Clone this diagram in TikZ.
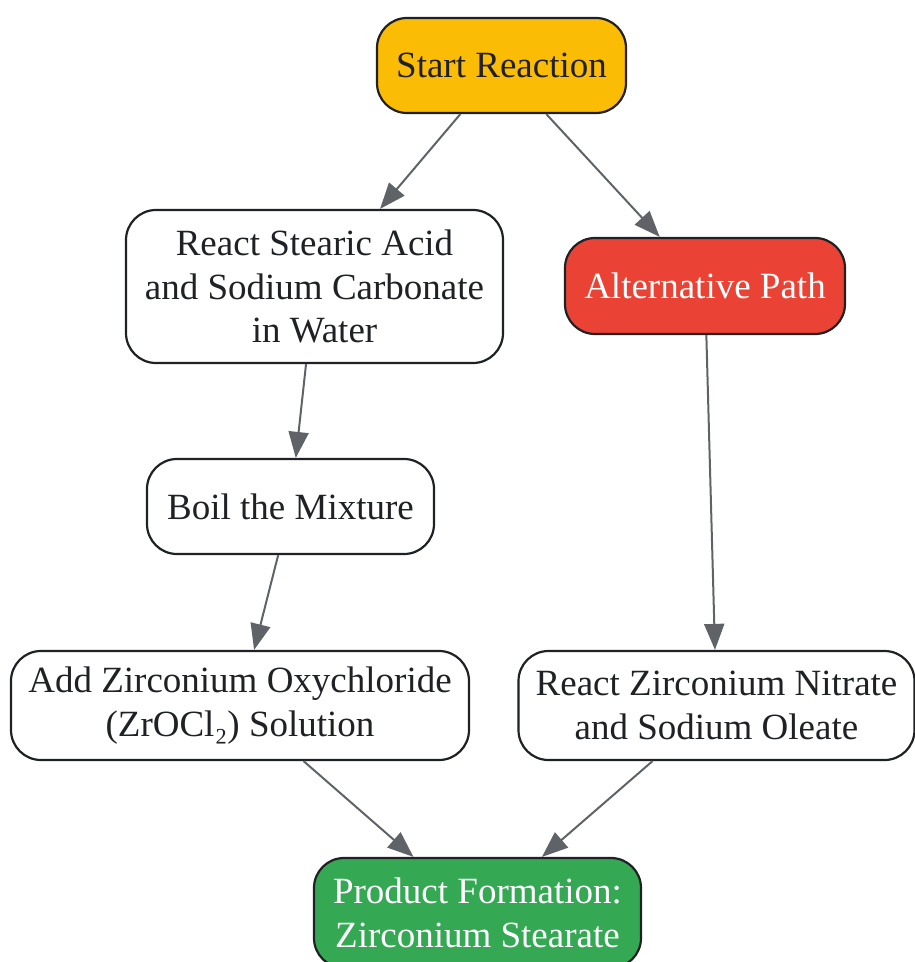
\documentclass[tikz,border=0pt]{standalone}
\usepackage{fontspec}
\setmainfont{Liberation Serif}
\usetikzlibrary{arrows.meta}
\definecolor{startc}{HTML}{FBBC05}
\definecolor{altc}{HTML}{EA4335}
\definecolor{prodc}{HTML}{34A853}
\definecolor{edgec}{HTML}{5F6368}
\definecolor{inkc}{HTML}{202124}
\begin{document}
\begin{tikzpicture}[x=1pt,y=1pt,
  box/.style={draw=inkc, line width=2.2pt, rounded corners=30pt, fill=white,
    text=inkc, align=center, inner sep=0pt,
    font=\fontsize{37}{43.5}\selectfont},
  conn/.style={draw=edgec, line width=2pt,
    -{Triangle[length=26pt,width=20pt]}}]
\useasboundingbox (0,0) rectangle (914,-962);
\node[box, fill=startc, minimum width=249pt, minimum height=95pt] (start) at (501.5,-65.5) {Start Reaction};
\node[box, minimum width=377pt, minimum height=153pt] (stearic) at (314.5,-286.5) {React Stearic Acid\\and Sodium Carbonate\\in Water};
\node[box, fill=altc, text=white, minimum width=280pt, minimum height=96pt] (alt) at (705,-286) {Alternative Path};
\node[box, minimum width=287pt, minimum height=95pt] (boil) at (290.5,-506.5) {Boil the Mixture};
\node[box, minimum width=458pt, minimum height=109pt] (add) at (240,-705.5) {Add Zirconium Oxychloride\\(ZrOCl₂) Solution};
\node[box, minimum width=396pt, minimum height=109pt] (nitrate) at (716.5,-705.5) {React Zirconium Nitrate\\and Sodium Oleate};
\node[box, fill=prodc, text=white, minimum width=327pt, minimum height=110pt] (prod) at (477.5,-913) {Product Formation:\\Zirconium Stearate};
\draw[conn] (start) -- (stearic);
\draw[conn] (start) -- (alt);
\draw[conn] (stearic) -- (boil);
\draw[conn] (alt) -- (nitrate);
\draw[conn] (boil) -- (add);
\draw[conn] (add) -- (prod);
\draw[conn] (nitrate) -- (prod);
\end{tikzpicture}
\end{document}
